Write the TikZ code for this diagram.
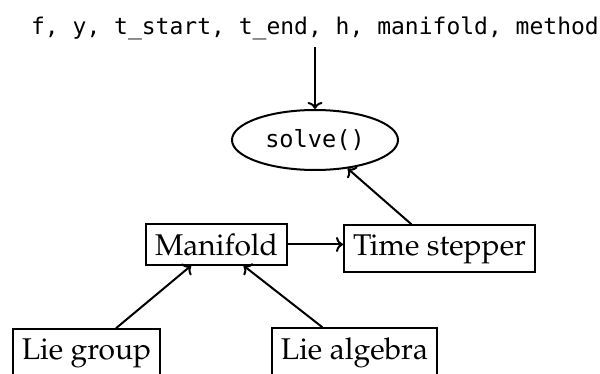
\documentclass[tikz,border=0pt]{standalone}
\usepackage[T1]{fontenc}
\usepackage{fontspec}
\newfontfamily\monof{DejaVu Sans Mono}
\newcommand\palfont{\fontencoding{T1}\fontfamily{ppl}\selectfont}
\newcommand\us{\symbol{95}}
\usetikzlibrary{shapes.geometric,arrows.meta}
\begin{document}
\begin{tikzpicture}[x=0.5pt,y=-0.5pt, line width=1pt,
  box/.style={draw, rectangle, inner sep=4.5pt, font=\palfont\fontsize{15}{18}\selectfont, anchor=base},
  arr/.style={-{To[length=3.5pt,width=7.5pt]}}]
\useasboundingbox (0,0) rectangle (600,374);
\node[font=\monof\fontsize{11.5}{14}\selectfont, anchor=base, inner sep=3pt] (args) at (315,35) {f, y, t\us start, t\us end, h, manifold, method};
\node[draw, ellipse, minimum width=83pt, minimum height=30pt, inner sep=0pt, font=\monof\fontsize{11.8}{13}\selectfont] (solve) at (315,140) {solve()};
\node[box] (man) at (216.5,255) {Manifold};
\node[box] (ts) at (439.5,255) {Time stepper};
\node[box] (lg) at (86.5,359) {Lie group};
\node[box] (la) at (354.5,359) {Lie algebra};
\draw[arr] (args.south -| solve.north) -- (solve.north);
\draw[arr] (ts) -- (solve);
\draw[arr] (man.east) -- (man.east -| ts.west);
\draw[arr] (lg) -- (man);
\draw[arr] (la) -- (man);
\end{tikzpicture}
\end{document}
